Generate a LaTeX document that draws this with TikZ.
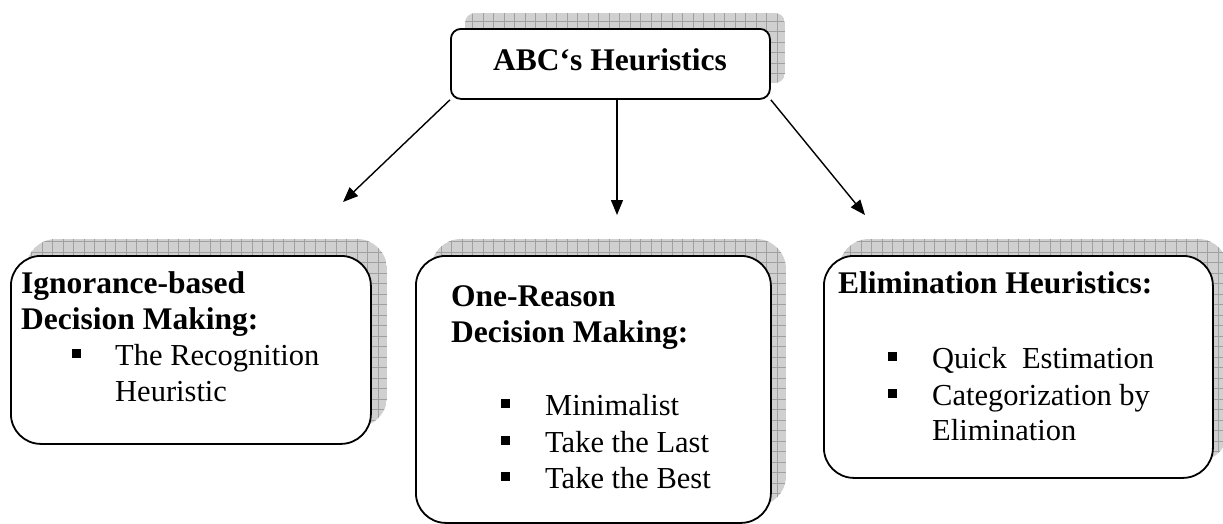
\documentclass[tikz,border=0pt]{standalone}
\usepackage{fontspec}
\setmainfont{Liberation Serif}
\usetikzlibrary{arrows.meta}

\definecolor{shadefill}{HTML}{D0D0D0}
\definecolor{shadeline}{HTML}{A0A0A0}

% grid-textured drop shadow: x1, y1, x2, y2, corner radius
\newcommand\gridshade[5]{%
  \begin{scope}
    \clip[rounded corners=#5] (#1,#2) rectangle (#3,#4);
    \fill[shadefill] (#1,#2) rectangle (#3,#4);
    \draw[shadeline, line width=0.7pt, step=10.5pt] (#1,#4) grid (#3,#2);
  \end{scope}}

\begin{document}
\begin{tikzpicture}[x=1pt,y=-1pt,
  box/.style={draw=black, line width=1.8pt, fill=white, rectangle,
              inner sep=0pt, anchor=north west},
  head/.style={font=\fontsize{31.5}{36}\selectfont\bfseries, inner sep=0pt, anchor=base west},
  item/.style={font=\fontsize{30.5}{36}\selectfont, inner sep=0pt, anchor=base west},
  sq/.style={fill=black, inner sep=0pt, minimum size=9pt, rectangle},
  link/.style={line width=1.4pt, -{Triangle[length=15pt,width=12pt]}},
]
\useasboundingbox (0,0) rectangle (1223,523);

% shadows
\gridshade{465}{13}{785}{83}{10pt}
\gridshade{26}{239}{387}{427}{30pt}
\gridshade{431}{239}{786}{506}{30pt}
\gridshade{839}{239}{1228}{461}{30pt}

% boxes
\node[box, rounded corners=10pt, minimum width=319pt, minimum height=70pt] (top) at (450,28) {};
\node[box, rounded corners=30pt, minimum width=360pt, minimum height=188pt] (left) at (10,255) {};
\node[box, rounded corners=30pt, minimum width=355pt, minimum height=267pt] (mid) at (415,255) {};
\node[box, rounded corners=30pt, minimum width=389pt, minimum height=222pt] (right) at (823,255) {};

% connectors
\coordinate (tipL) at (343,202);
\coordinate (tipM) at (617,215);
\coordinate (tipR) at (865,215);
\draw[link] (top.south west) -- (tipL);
\draw[link] (top.south -| tipM) -- (tipM);
\draw[link] (top.south east) -- (tipR);

% title
\node[head, anchor=base] (title) at (610,70) {ABC‘s Heuristics};

% ignorance-based decision making
\node[head] (l1) at (21,293) {Ignorance-based};
\node[head] (l2) at (21,329) {Decision Making:};
\node[sq] (lb1) at (76,353) {};
\node[item] (l3) at (115,365) {The Recognition};
\node[item] (l4) at (115,401) {Heuristic};

% one-reason decision making
\node[head] (m1) at (451,306) {One-Reason};
\node[head] (m2) at (451,342) {Decision Making:};
\node[sq] (mb1) at (505,403) {};
\node[sq] (mb2) at (505,440) {};
\node[sq] (mb3) at (505,476) {};
\node[item] (m3) at (545,415) {Minimalist};
\node[item] (m4) at (545,452) {Take the Last};
\node[item] (m5) at (545,488) {Take the Best};

% elimination heuristics
\node[head] (r1) at (838,293) {Elimination Heuristics:};
\node[sq] (rb1) at (892,356) {};
\node[sq] (rb2) at (892,393) {};
\node[item] (r2) at (932,368) {Quick\ \ Estimation};
\node[item] (r3) at (932,405) {Categorization by};
\node[item] (r4) at (932,440) {Elimination};
\end{tikzpicture}
\end{document}
